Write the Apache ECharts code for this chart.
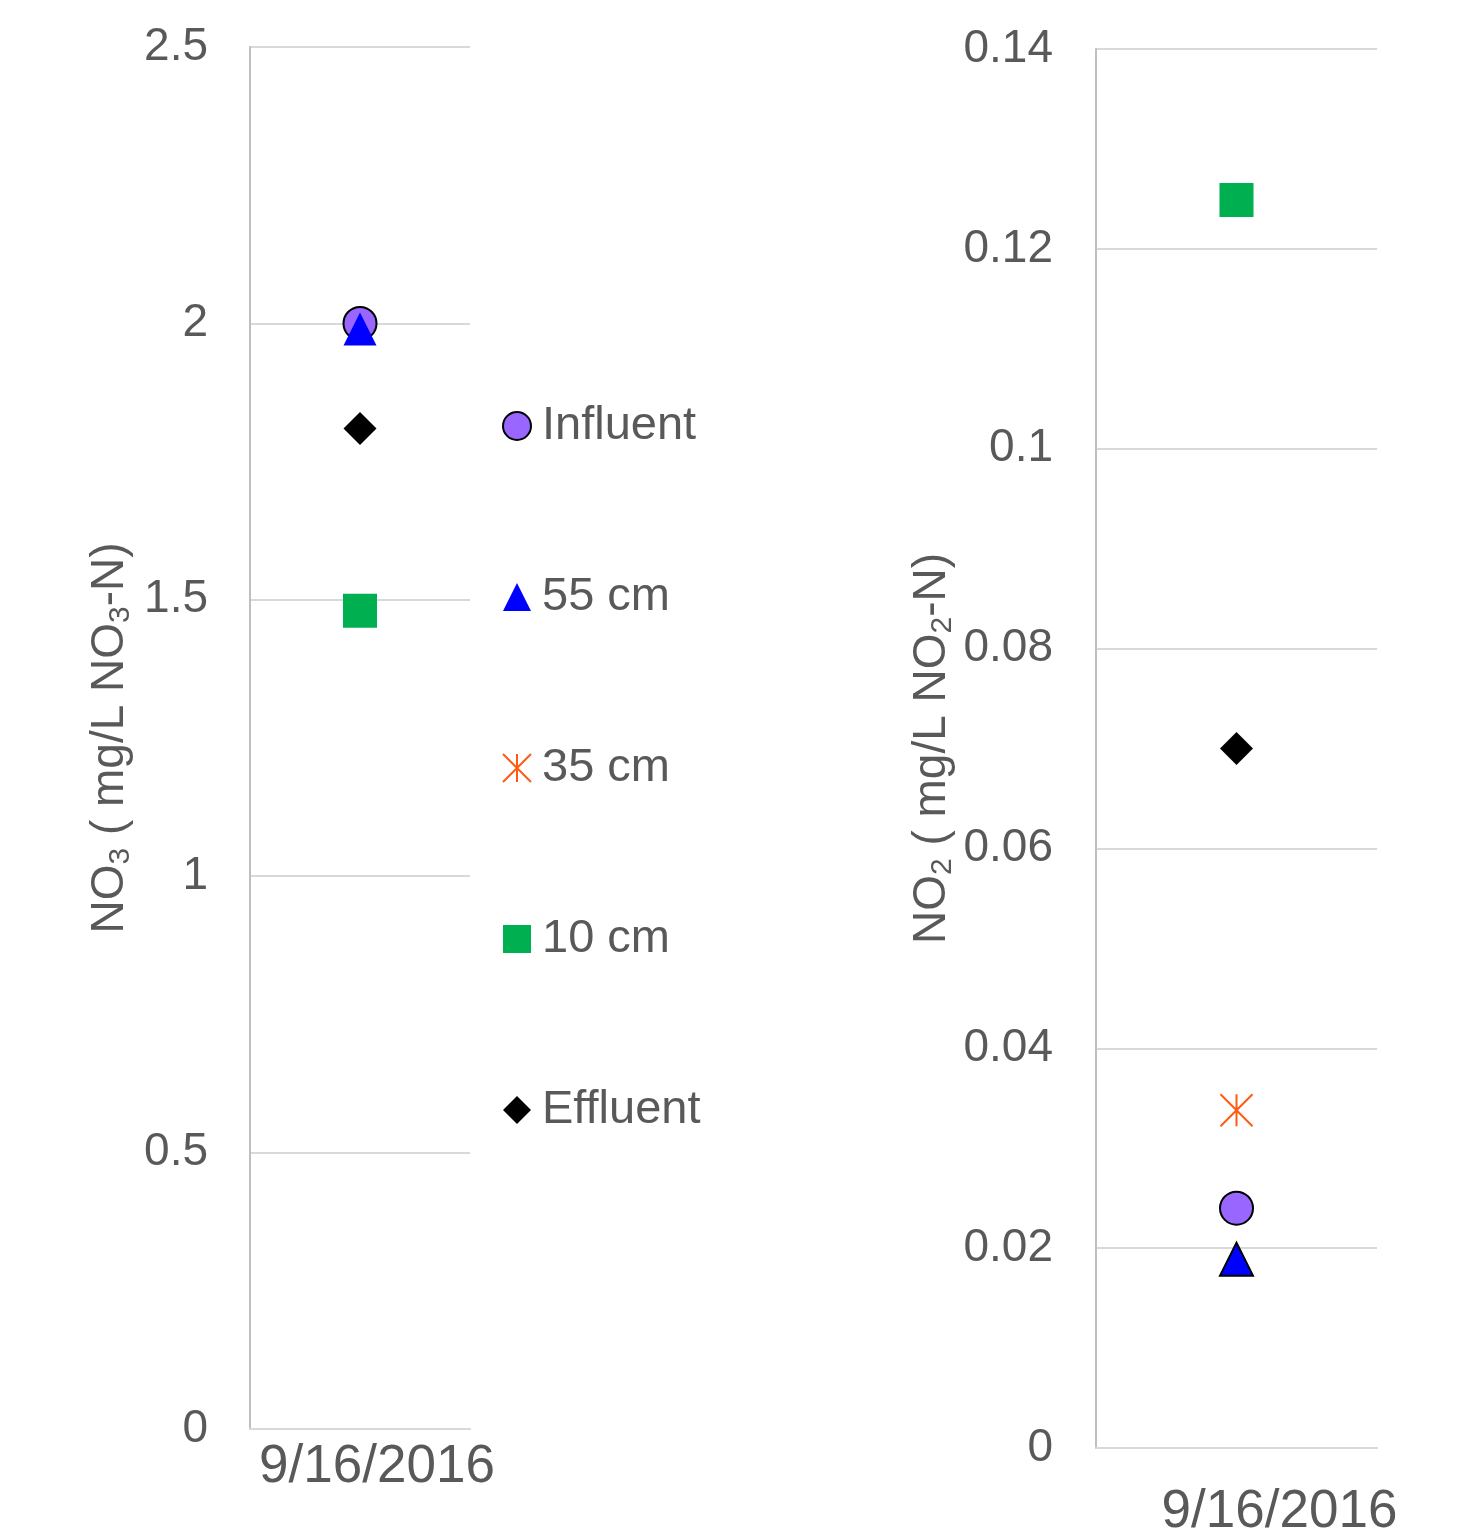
<!DOCTYPE html>
<html>
<head>
<meta charset="utf-8">
<script src="https://cdn.jsdelivr.net/npm/echarts@6/dist/echarts.min.js"></script>
<style>
  html, body { margin: 0; padding: 0; background: #fff; }
  #main { width: 1477px; height: 1532px; }
</style>
</head>
<body>
<div id="main"></div>
<script type="text/javascript">
// data
var categories = ['9/16/2016'];
var seriesNames = ['Influent', '55 cm', '35 cm', '10 cm', 'Effluent'];
var no3Values = [2.0, 1.99, null, 1.48, 1.81];
var no2Values = [0.024, 0.0189, 0.0338, 0.1249, 0.070];

var textColor = '#595959';
var fontFam = '"Liberation Sans", Arial, sans-serif';

var starPath = 'path://M0,-10L0,10M-10,-10L10,10M-10,10L10,-10';

// look of each series (left chart, right chart)
var looks = [
    { symbol: 'circle', size: 33, left: { color: '#9966FF', borderColor: '#000', borderWidth: 2 }, right: { color: '#9966FF', borderColor: '#000', borderWidth: 2 } },
    { symbol: 'triangle', size: 33, left: { color: '#0000FF' }, right: { color: '#0000FF', borderColor: '#000', borderWidth: 2 } },
    { symbol: starPath, size: 32, left: { color: 'transparent', borderColor: '#FF5A14', borderWidth: 2 }, right: { color: 'transparent', borderColor: '#FF5A14', borderWidth: 2 } },
    { symbol: 'rect', size: 34, left: { color: '#00B050' }, right: { color: '#00B050' } },
    { symbol: 'diamond', size: 33, left: { color: '#000' }, right: { color: '#000' } }
];
looks.forEach(function (l) { l.left.opacity = 1; l.right.opacity = 1; });

var myChart = echarts.init(document.getElementById('main'));

function yAxisName(sub) {
    return '{a|NO}{s|' + sub + '}{a| ( mg/L NO}{s|' + sub + '}{a|-N)}';
}
var nameRich = {
    a: { fontSize: 46, color: textColor, fontFamily: fontFam, lineHeight: 52 },
    s: { fontSize: 30, color: textColor, fontFamily: fontFam, verticalAlign: 'bottom', lineHeight: 40 }
};

var series = [];
seriesNames.forEach(function (n, i) {
    series.push({
        name: n, type: 'scatter', xAxisIndex: 0, yAxisIndex: 0,
        symbol: looks[i].symbol, symbolSize: looks[i].size,
        itemStyle: looks[i].left,
        data: [no3Values[i]]
    });
});
seriesNames.forEach(function (n, i) {
    series.push({
        name: n, type: 'scatter', xAxisIndex: 1, yAxisIndex: 1,
        symbol: looks[i].symbol, symbolSize: looks[i].size,
        itemStyle: looks[i].right,
        data: [no2Values[i]]
    });
});

var option = {
    animation: false,
    textStyle: { fontFamily: fontFam },
    grid: [
        { left: 250, top: 47, width: 220, height: 1382, outerBoundsMode: 'none' },
        { left: 1096, top: 49, width: 281, height: 1399, outerBoundsMode: 'none' }
    ],
    legend: {
        data: seriesNames,
        orient: 'vertical',
        left: 497,
        top: 396,
        itemWidth: 28,
        itemHeight: 28,
        itemGap: 121,
        selectedMode: false,
        textStyle: { fontSize: 47, color: textColor, fontFamily: fontFam, lineHeight: 50, padding: [0, 0, 0, 6] }
    },
    xAxis: [
        {
            gridIndex: 0, type: 'category', data: categories,
            axisLine: { lineStyle: { color: '#d9d9d9', width: 2 } },
            axisTick: { show: false },
            axisLabel: { fontSize: 53, color: textColor, fontFamily: fontFam, margin: 12, padding: [0, 0, 0, 34] }
        },
        {
            gridIndex: 1, type: 'category', data: categories,
            axisLine: { lineStyle: { color: '#d9d9d9', width: 2 } },
            axisTick: { show: false },
            axisLabel: { fontSize: 53, color: textColor, fontFamily: fontFam, margin: 38, padding: [0, 0, 0, 86] }
        }
    ],
    yAxis: [
        {
            gridIndex: 0, type: 'value', min: 0, max: 2.5, interval: 0.5,
            name: yAxisName('3'), nameLocation: 'middle', nameGap: 114,
            nameTextStyle: { rich: nameRich },
            axisLine: { show: true, lineStyle: { color: '#bfbfbf', width: 2 } },
            axisTick: { show: false },
            splitLine: { lineStyle: { color: '#d9d9d9', width: 2 } },
            axisLabel: { fontSize: 46, color: textColor, fontFamily: fontFam, margin: 42 }
        },
        {
            gridIndex: 1, type: 'value', min: 0, max: 0.14, interval: 0.02,
            name: yAxisName('2'), nameLocation: 'middle', nameGap: 138,
            nameTextStyle: { rich: nameRich },
            axisLine: { show: true, lineStyle: { color: '#bfbfbf', width: 2 } },
            axisTick: { show: false },
            splitLine: { lineStyle: { color: '#d9d9d9', width: 2 } },
            axisLabel: { fontSize: 46, color: textColor, fontFamily: fontFam, margin: 43 }
        }
    ],
    series: series
};

myChart.setOption(option);
</script>
</body>
</html>
